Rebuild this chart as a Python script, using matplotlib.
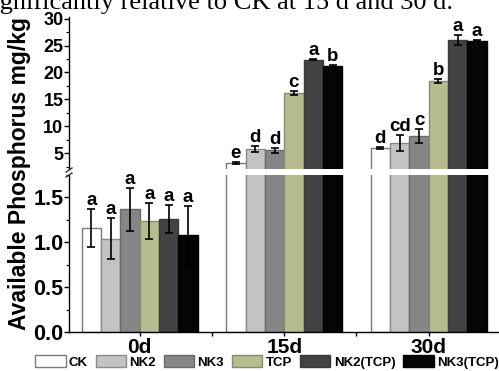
import matplotlib
matplotlib.use("Agg")
import matplotlib.pyplot as plt
from matplotlib.patches import Patch
import numpy as np

# ---- data ----
days = ["0d", "15d", "30d"]
treatments = ["CK", "NK2", "NK3", "TCP", "NK2(TCP)", "NK3(TCP)"]
colors = ["#ffffff", "#c3c3c3", "#868686", "#b7bc8f", "#424242", "#050505"]
edgecolors = ["#7a7a7a", "#8a8a8a", "#6a6a6a", "#8a8a70", "#3a3a3a", "#000000"]

means = {
    "CK":       [1.16, 3.17, 5.90],
    "NK2":      [1.04, 5.80, 6.85],
    "NK3":      [1.37, 5.50, 8.15],
    "TCP":      [1.24, 16.2, 18.4],
    "NK2(TCP)": [1.26, 22.4, 26.0],
    "NK3(TCP)": [1.08, 21.2, 25.9],
}
errs = {
    "CK":       [0.21, 0.15, 0.15],
    "NK2":      [0.23, 0.55, 1.50],
    "NK3":      [0.24, 0.45, 1.25],
    "TCP":      [0.20, 0.35, 0.30],
    "NK2(TCP)": [0.16, 0.12, 0.90],
    "NK3(TCP)": [0.33, 0.10, 0.12],
}
letters = {
    "CK":       ["a", "e", "d"],
    "NK2":      ["a", "d", "cd"],
    "NK3":      ["a", "d", "c"],
    "TCP":      ["a", "c", "b"],
    "NK2(TCP)": ["a", "a", "a"],
    "NK3(TCP)": ["a", "b", "a"],
}
top_ticks = [5, 10, 15, 20, 25, 30]
low_ticks = [0.0, 0.5, 1.0, 1.5]

plt.rcParams["font.family"] = ["Liberation Sans", "DejaVu Sans"]
plt.rcParams["font.weight"] = "bold"

W, H = 499, 371
fig = plt.figure(figsize=(W / 100, H / 100), dpi=100)

def fx(px):
    return px / W

def fy(py):
    return 1 - py / H

left, right = 69, 498
ax_top = fig.add_axes([fx(left), fy(169), fx(right - left), fy(17) - fy(169)])
ax_low = fig.add_axes([fx(left), fy(332), fx(right - left), fy(175) - fy(332)])

x = np.arange(len(days))
bw = 0.134
n = len(treatments)
for ax in (ax_top, ax_low):
    for i, t in enumerate(treatments):
        pos = x + (i - (n - 1) / 2) * bw
        ax.bar(pos, means[t], width=bw, color=colors[i], edgecolor=edgecolors[i],
               linewidth=1.0, zorder=2)
        ax.errorbar(pos, means[t], yerr=errs[t], fmt="none", ecolor="black",
                    elinewidth=1.2, capsize=3, capthick=1.2, zorder=3)
        for j in range(len(days)):
            top = means[t][j] + errs[t][j]
            if (ax is ax_low and j == 0) or (ax is ax_top and j > 0):
                ax.annotate(letters[t][j], (pos[j], top), xytext=(0, 0),
                            textcoords="offset points", ha="center", va="bottom",
                            fontsize=13.5, fontweight="bold", zorder=4)

ax_top.set_ylim(2.05, 30.3)
ax_low.set_ylim(0, 1.745)
for ax in (ax_top, ax_low):
    ax.set_xlim(-0.49, 2.48)
    ax.spines["top"].set_visible(False)
    ax.spines["right"].set_visible(False)
    ax.spines["left"].set_linewidth(1.0)
    ax.tick_params(axis="y", direction="out", length=3.5, width=1.0, pad=0.5)
    ax.tick_params(axis="y", which="minor", direction="out", length=2, width=0.8)

ax_top.spines["bottom"].set_visible(False)
ax_top.set_xticks([])
ax_top.set_yticks(top_ticks)
ax_top.set_yticks(np.arange(2.5, 30.1, 2.5), minor=True)
ax_top.set_yticklabels([str(v) for v in top_ticks], fontsize=13, fontweight="bold")

ax_low.set_yticks(low_ticks)
ax_low.set_yticks(np.arange(0, 1.76, 0.25), minor=True)
ax_low.set_yticklabels([f"{v:.1f}" for v in low_ticks], fontsize=15.5, fontweight="bold")
ax_low.set_xticks(x)
ax_low.set_xticks([0.5, 1.5], minor=True)
ax_low.set_xticklabels(days, fontsize=15, fontweight="bold")
ax_low.tick_params(axis="x", direction="out", length=3, width=1.0, pad=1)
ax_low.tick_params(axis="x", which="minor", direction="out", length=3, width=1.0)
ax_low.spines["bottom"].set_linewidth(1.0)

# break marks
for dy in (-2.5, 2.5):
    fig.add_artist(plt.Line2D([fx(left - 3), fx(left + 3)],
                              [fy(172.5 + dy + 2), fy(172.5 + dy - 2)],
                              color="#333333", lw=1.0))

fig.text(fx(20), fy(174), "Available Phosphorus mg/kg", rotation=90,
         ha="center", va="center", fontsize=16.5, fontweight="bold")

fig.text(fx(-18), fy(8.5), "significantly relative to CK at 15 d and 30 d.",
         ha="left", va="baseline", fontsize=19, fontweight="normal",
         family=["Liberation Serif", "DejaVu Serif"])

handles = [Patch(facecolor=colors[i], edgecolor=edgecolors[i], linewidth=1.0)
           for i in range(n)]
fig.legend(handles, treatments, loc="center", bbox_to_anchor=(fx(267), fy(362)),
           ncol=6, frameon=False, handlelength=2.3, handleheight=0.95,
           handletextpad=0.25, columnspacing=0.6, borderpad=0, borderaxespad=0,
           prop={"family": "Liberation Sans", "weight": "bold", "size": 9.5})

fig.savefig("out.png", dpi=100)
